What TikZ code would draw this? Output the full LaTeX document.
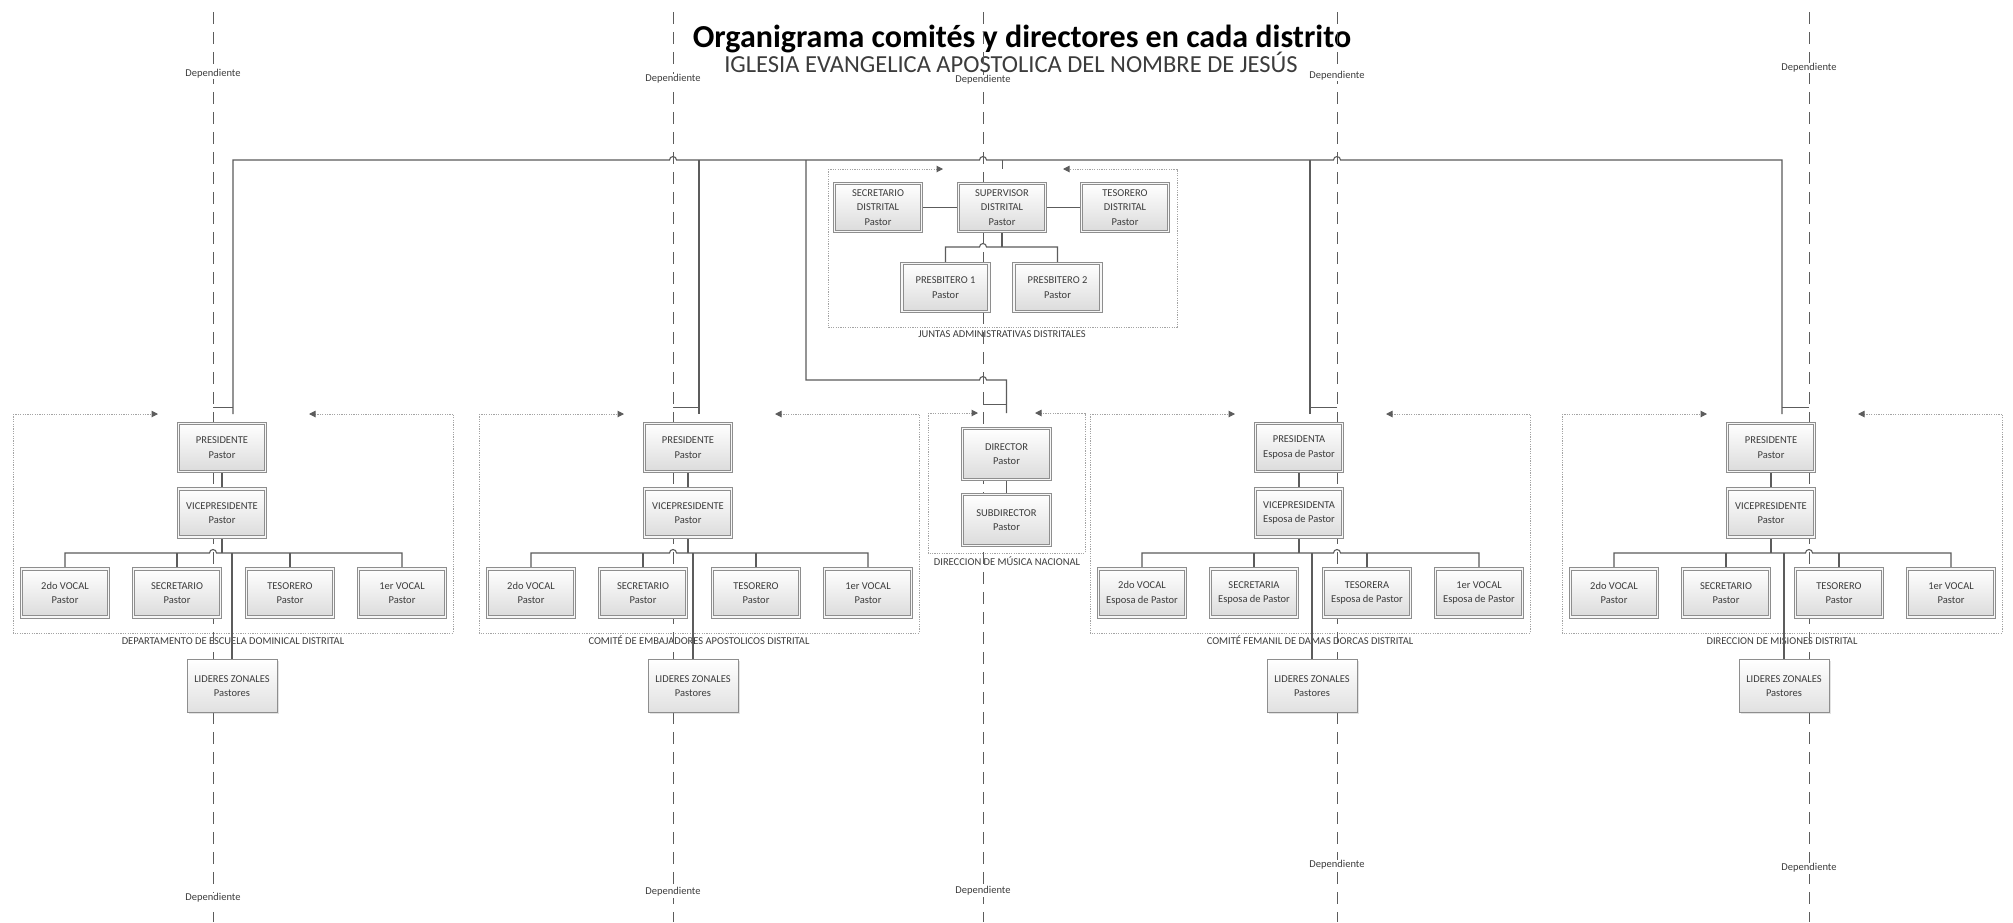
\documentclass[tikz,border=0pt]{standalone}
\usepackage{fontspec}
\setmainfont{Carlito}
\usetikzlibrary{arrows.meta,shadows,calc}

\pgfdeclarelayer{back}
\pgfdeclarelayer{wires}
\pgfsetlayers{back,wires,main}

\definecolor{ink}{HTML}{3C3C3C}
\definecolor{wire}{HTML}{5C5C5C}
\definecolor{frame}{HTML}{8E8E8E}
\definecolor{dotc}{HTML}{A4A4A4}

\tikzset{
  txt/.style={text=ink, font=\fontsize{10.5}{14.5}\selectfont},
  role/.style={txt, draw=frame, double=black!3, double distance=1.6pt, line width=0.8pt,
    top color=white, bottom color=black!14, minimum width=87pt, minimum height=48pt,
    inner sep=0pt, align=center,
    drop shadow={opacity=0.22, shadow xshift=1.6pt, shadow yshift=-1.6pt}},
  lead/.style={txt, draw=frame, line width=0.9pt, top color=white, bottom color=black!12,
    minimum width=90pt, minimum height=53pt, inner sep=0pt, align=center,
    drop shadow={opacity=0.22, shadow xshift=1.6pt, shadow yshift=-1.6pt}},
  area/.style={inner sep=0pt, outer sep=0pt},
  frameline/.style={draw=dotc, line width=1pt, dash pattern=on 1.2pt off 1.2pt},
  frametip/.style={frameline, -{Triangle[length=6.5pt, width=6.5pt, color=wire]}},
  wire/.style={draw=wire, line width=1.1pt},
  tick/.style={draw=wire, line width=0.9pt},
  depline/.style={draw=wire, line width=1pt, dash pattern=on 12pt off 8pt},
  deplabel/.style={txt, fill=white, inner sep=1pt},
  arealabel/.style={txt, anchor=base},
}

% #1 id, #2 centre x of the head box, #3 x of the dependency line,
% #4 x of the leaders box, #5 E/A ending, #6 O/A ending, #7 role, #8 area name
\newcommand\comite[8]{%
  \node[area, minimum width=440pt, minimum height=219pt] (#1) at (#2+11, 523.5) {};
  \node[role] (#1-p)   at (#2, 447.5)   {PRESIDENT#5\\#7};
  \node[role] (#1-vp)  at (#2, 513)     {VICEPRESIDENT#5\\#7};
  \node[role] (#1-v2)  at (#2-157, 593) {2do VOCAL\\#7};
  \node[role] (#1-sec) at (#2-45, 593)  {SECRETARI#6\\#7};
  \node[role] (#1-tes) at (#2+68, 593)  {TESORER#6\\#7};
  \node[role] (#1-v1)  at (#2+180, 593) {1er VOCAL\\#7};
  \node[lead] (#1-lz)  at (#4, 686)     {LIDERES ZONALES\\Pastores};
  \coordinate (#1-bus) at (#3, 553);
  \coordinate (#1-tk)  at (#3, 407);
  \begin{pgfonlayer}{back}
    \draw[frametip] (#1.north west) -- +(145pt,0);
    \draw[frametip] (#1.north east) -- +(-144pt,0);
    \draw[frameline] (#1.north west) -- (#1.south west) -- (#1.south east) -- (#1.north east);
    \node[arealabel] (#1-name) at (#2+11, 644) {#8};
  \end{pgfonlayer}
  \begin{pgfonlayer}{wires}
    \draw[wire] (#1-p) -- (#1-vp);
    \draw[wire] (#1-vp) -- (#1-vp |- #1-bus);
    \draw[wire] (#1-v2) -- (#1-v2 |- #1-bus)
      -- ($(#1-bus)+(-3.5pt,0)$) arc[start angle=180, end angle=0, radius=3.5pt]
      -- (#1-v1 |- #1-bus) -- (#1-v1);
    \draw[wire] (#1-sec) -- (#1-sec |- #1-bus);
    \draw[wire] (#1-tes) -- (#1-tes |- #1-bus);
    \draw[wire] (#1-lz |- #1-bus) -- (#1-lz);
    \draw[tick] (#1-tk) -- (#1.north |- #1-tk);
  \end{pgfonlayer}
}

\begin{document}
\begin{tikzpicture}[x=1pt, y=-1pt]
\useasboundingbox (0,0) rectangle (2013,922);
\begin{pgfonlayer}{back}
  \fill[white] (0,0) rectangle (2013,922);
  \node[anchor=base, text=black, font=\fontsize{32}{38}\selectfont\bfseries] (title) at (1022,47)
    {Organigrama comités y directores en cada distrito};
  \node[anchor=base, text=ink, font=\fontsize{24.5}{29}\selectfont] (subtitle) at (1011,72)
    {IGLESIA EVANGELICA APOSTOLICA DEL NOMBRE DE JESÚS};
\end{pgfonlayer}

% dependency lines
\coordinate (d1) at (213,0);
\coordinate (d2) at (673,0);
\coordinate (d3) at (983,0);
\coordinate (d4) at (1337,0);
\coordinate (d5) at (1809,0);
\coordinate (bar) at (0,160);

% committees
\comite{esc}{222}{213}{232}{E}{O}{Pastor}{DEPARTAMENTO DE ESCUELA DOMINICAL DISTRITAL}
\comite{emb}{688}{673}{693}{E}{O}{Pastor}{COMITÉ DE EMBAJADORES APOSTOLICOS DISTRITAL}
\comite{dam}{1299}{1337}{1312}{A}{A}{Esposa de Pastor}{COMITÉ FEMANIL DE DAMAS DORCAS DISTRITAL}
\comite{mis}{1771}{1809}{1784}{E}{O}{Pastor}{DIRECCION DE MISIONES DISTRITAL}

% district boards
\node[area, minimum width=349pt, minimum height=158pt] (jun) at (1002.5, 248) {};
\node[role] (jun-sec) at (878, 207.5)    {SECRETARIO\\DISTRITAL\\Pastor};
\node[role] (jun-sup) at (1002, 207.5)   {SUPERVISOR\\DISTRITAL\\Pastor};
\node[role] (jun-tes) at (1125, 207.5)   {TESORERO\\DISTRITAL\\Pastor};
\node[role] (jun-p1)  at (945.5, 287.5)  {PRESBITERO 1\\Pastor};
\node[role] (jun-p2)  at (1057.5, 287.5) {PRESBITERO 2\\Pastor};
\coordinate (jun-bus) at (983, 247);

% national music directorate
\node[area, minimum width=157pt, minimum height=140pt] (mus) at (1006.5, 483) {};
\node[role, minimum width=88pt, minimum height=51pt] (mus-dir) at (1006.5, 454) {DIRECTOR\\Pastor};
\node[role, minimum width=88pt, minimum height=51pt] (mus-sub) at (1006.5, 520) {SUBDIRECTOR\\Pastor};
\coordinate (mus-bend) at (806, 380);
\coordinate (mus-tk) at (983, 404);

\begin{pgfonlayer}{back}
  \draw[frametip] (jun.north west) -- +(115pt,0);
  \draw[frametip] (jun.north east) -- +(-114pt,0);
  \draw[frameline] (jun.north west) -- (jun.south west) -- (jun.south east) -- (jun.north east);
  \node[arealabel] (jun-name) at (1002, 337) {JUNTAS ADMINISTRATIVAS DISTRITALES};
  \draw[frametip] (mus.north west) -- +(50pt,0);
  \draw[frametip] (mus.north east) -- +(-50pt,0);
  \draw[frameline] (mus.north west) -- (mus.south west) -- (mus.south east) -- (mus.north east);
  \node[arealabel] (mus-name) at (1007, 565) {DIRECCION DE MÚSICA NACIONAL};
\end{pgfonlayer}

\begin{pgfonlayer}{wires}
  % main bar
  \draw[wire] (esc.north) -- (esc.north |- bar)
    -- ($(d2 |- bar)+(-3.5pt,0)$) arc[start angle=180, end angle=0, radius=3.5pt]
    -- ($(d3 |- bar)+(-3.5pt,0)$) arc[start angle=180, end angle=0, radius=3.5pt]
    -- ($(d4 |- bar)+(-3.5pt,0)$) arc[start angle=180, end angle=0, radius=3.5pt]
    -- (mis.north |- bar) -- (mis.north);
  \draw[wire] (emb.north |- bar) -- (emb.north);
  \draw[wire] (dam.north |- bar) -- (dam.north);
  \draw[wire] (jun.north |- bar) -- (jun.north);
  \draw[wire] (mus-bend |- bar) -- (mus-bend)
    -- ($(d3 |- mus-bend)+(-3.5pt,0)$) arc[start angle=180, end angle=0, radius=3.5pt]
    -- (mus.north |- mus-bend) -- (mus.north);
  \draw[tick] (mus-tk) -- (mus.north |- mus-tk);
  % boards
  \draw[wire] (jun-sec) -- (jun-sup);
  \draw[wire] (jun-sup) -- (jun-tes);
  \draw[wire] (jun-sup) -- (jun-sup |- jun-bus);
  \draw[wire] (jun-p1) -- (jun-p1 |- jun-bus)
    -- ($(jun-bus)+(-3.5pt,0)$) arc[start angle=180, end angle=0, radius=3.5pt]
    -- (jun-p2 |- jun-bus) -- (jun-p2);
  \draw[wire] (mus-dir) -- (mus-sub);
  % dependency lines
  \foreach \i in {1,...,5} {
    \draw[depline] ($(d\i)+(0,-12pt)$) -- ($(d\i)+(0,-922pt)$);
  }
\end{pgfonlayer}

\node[deplabel] (dep1t) at (213,74)  {Dependiente};
\node[deplabel] (dep1b) at (213,898) {Dependiente};
\node[deplabel] (dep2t) at (673,79)  {Dependiente};
\node[deplabel] (dep2b) at (673,892) {Dependiente};
\node[deplabel] (dep3t) at (983,80)  {Dependiente};
\node[deplabel] (dep3b) at (983,891) {Dependiente};
\node[deplabel] (dep4t) at (1337,76)  {Dependiente};
\node[deplabel] (dep4b) at (1337,865) {Dependiente};
\node[deplabel] (dep5t) at (1809,68)  {Dependiente};
\node[deplabel] (dep5b) at (1809,868) {Dependiente};
\end{tikzpicture}
\end{document}
